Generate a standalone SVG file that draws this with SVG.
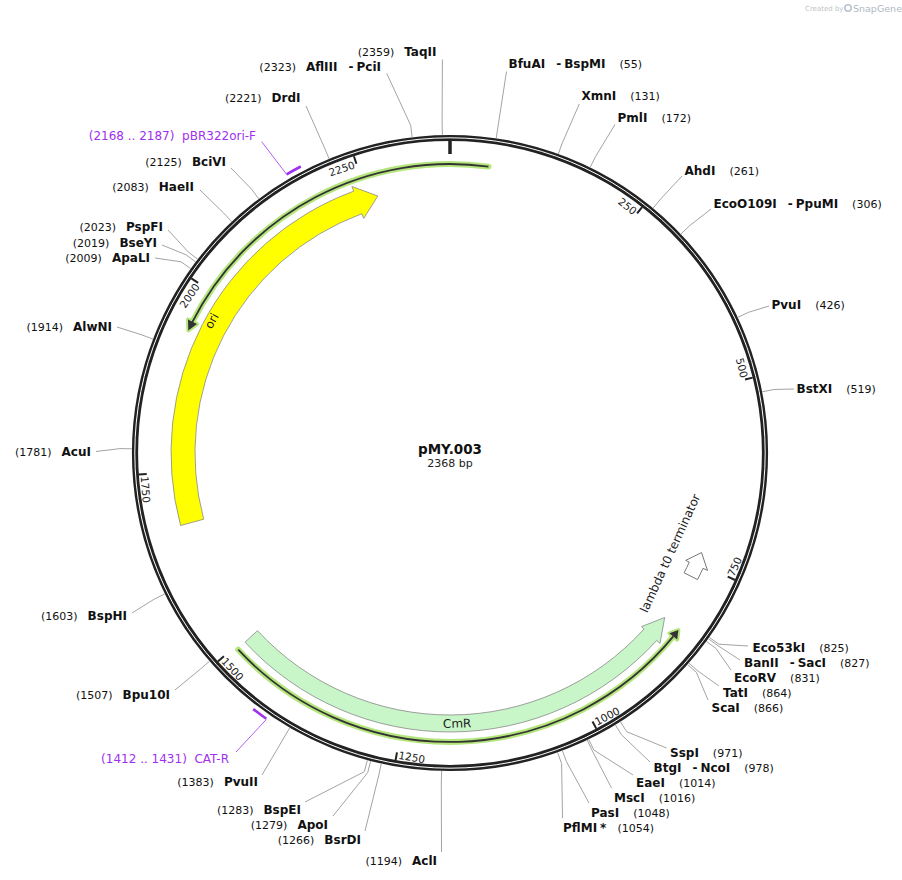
<svg xmlns="http://www.w3.org/2000/svg" width="902" height="880" viewBox="0 0 902 880">
<style>
text{font-family:"DejaVu Sans","Liberation Sans",sans-serif;}
.lb{font-size:11px;fill:#111;}
.b{font-weight:bold;font-size:12px;}
.tl{font-size:10.5px;fill:#222;}
.lead{fill:none;stroke:#999;stroke-width:0.9;}
.tick{stroke:#222;stroke-width:2;}
.prim{fill:none;stroke:#a030f0;stroke-width:2.6;}
.plead{fill:none;stroke:#b060f0;stroke-width:1;}
.plb{font-size:12px;fill:#a030f0;}
.fl{font-size:12px;fill:#222;}
.glow{fill:none;stroke:#b5e67e;stroke-width:6;stroke-linecap:round;stroke-linejoin:round;}
.core{fill:none;stroke:#333;stroke-width:1.8;}
</style>
<rect width="902" height="880" fill="#fff"/>
<g id="logo">
<text x="805" y="11" style="font-size:7px;fill:#c4c4c4;">Created by</text>
<circle cx="848" cy="8" r="3.2" fill="none" stroke="#b9c4d0" stroke-width="1.6"/>
<text x="853" y="12" style="font-size:9.5px;fill:#b0b8c2;">SnapGene</text>
</g>
<g id="backbone">
<circle cx="450" cy="453" r="315" fill="none" stroke="#222" stroke-width="6.2"/>
<circle cx="450" cy="453" r="315.2" fill="none" stroke="#fff" stroke-width="1"/>
</g>
<g id="ticks">
<line class="tick" x1="450" y1="140.5" x2="450" y2="154" style="stroke-width:3.5"/>
<line class="tick" x1="642.1" y1="207.1" x2="637.1" y2="213.4"/>
<line class="tick" x1="752.7" y1="377.6" x2="745.0" y2="379.5"/>
<line class="tick" x1="735.0" y1="580.0" x2="727.7" y2="576.7"/>
<line class="tick" x1="596.3" y1="728.6" x2="592.5" y2="721.5"/>
<line class="tick" x1="395.6" y1="760.2" x2="397.0" y2="752.3"/>
<line class="tick" x1="217.9" y1="661.5" x2="223.9" y2="656.2"/>
<line class="tick" x1="138.7" y1="474.5" x2="146.7" y2="473.9"/>
<line class="tick" x1="191.4" y1="278.4" x2="198.1" y2="282.9"/>
<line class="tick" x1="353.9" y1="156.2" x2="356.4" y2="163.8"/>
<text class="tl" text-anchor="end" x="-2" transform="translate(634.7,216.6) rotate(38.01)">250</text>
<text class="tl" text-anchor="end" x="-2" transform="translate(741.1,380.5) rotate(76.01)">500</text>
<text class="tl" x="2" transform="translate(733.2,579.2) rotate(-65.98)">750</text>
<text class="tl" x="2" transform="translate(595.4,726.8) rotate(-27.97)">1000</text>
<text class="tl" x="2" transform="translate(396.0,758.3) rotate(10.03)">1250</text>
<text class="tl" x="2" transform="translate(219.4,660.2) rotate(48.04)">1500</text>
<text class="tl" x="2" transform="translate(140.7,474.4) rotate(86.05)">1750</text>
<text class="tl" text-anchor="end" x="-2" transform="translate(201.4,285.1) rotate(-55.95)">2000</text>
<text class="tl" text-anchor="end" x="-2" transform="translate(357.6,167.6) rotate(-17.94)">2250</text>
</g>
<g id="orf1">
<path class="glow" d="M488.5,166.6 A289,289 0 0 0 192.0,322.7"/>
<polygon points="188.3,330.4 197.0,324.1 188.0,319.5" fill="#b5e67e" stroke="#b5e67e" stroke-width="4" stroke-linejoin="round"/>
<path class="core" d="M488.5,166.6 A289,289 0 0 0 192.0,322.7"/>
<polygon points="188.3,330.4 197.0,324.1 188.0,319.5" fill="#333"/>
</g>
<g id="orf2">
<path class="glow" d="M238.3,649.7 A289,289 0 0 0 673.3,636.4"/>
<polygon points="678.4,630.1 669.4,633.3 677.2,639.6" fill="#b5e67e" stroke="#b5e67e" stroke-width="4" stroke-linejoin="round"/>
<path class="core" d="M238.3,649.7 A289,289 0 0 0 673.3,636.4"/>
<polygon points="678.4,630.1 669.4,633.3 677.2,639.6" fill="#333"/>
</g>
<g id="ori">
<path d="M180.6,525.5 A279,279 0 0 1 353.7,191.2 L351.9,186.5 L377.8,196.0 L363.7,218.4 L361.9,213.7 A255,255 0 0 0 203.7,519.2 Z" fill="#ffff00" stroke="#888" stroke-width="0.8"/>
<text class="fl" text-anchor="middle" transform="translate(215.3,322.9) rotate(-61)">ori</text>
</g>
<g id="CmR">
<path d="M245.0,642.2 A279,279 0 0 0 656.7,640.4 L660.0,643.4 L664.7,617.5 L641.5,626.6 L644.1,629.0 A262,262 0 0 1 257.5,630.7 Z" fill="#c8f6c8" stroke="#888" stroke-width="0.8"/>
<text class="fl" text-anchor="middle" transform="translate(457.2,727.7) rotate(-1.5)">CmR</text>
</g>
<g id="terminator">
<path d="M697.5,579.6 A278,278 0 0 0 703.0,568.3 L707.5,570.4 L701.5,552.6 L685.7,560.4 L689.3,562.1 A263,263 0 0 1 684.1,572.8 Z" fill="#fff" stroke="#777" stroke-width="1"/>
<text class="fl" text-anchor="middle" transform="translate(673.9,555.0) rotate(-65.5)">lambda t0 terminator</text>
</g>
<g id="primer-pBR322ori-F">
<path class="prim" d="M286.6,174.4 A323,323 0 0 1 300.8,166.5"/>
<text class="plb" text-anchor="end" x="256" y="139.5" xml:space="preserve">(2168 .. 2187)  pBR322ori-F</text>
</g>
<g id="primer-CAT-R">
<path class="prim" d="M253.2,709.1 A323,323 0 0 0 266.3,718.7"/>
<text class="plb" text-anchor="end" x="229" y="763" xml:space="preserve">(1412 .. 1431)  CAT-R</text>
</g>
<g id="connectors">
<polyline class="plead" points="286.6,174.4 261.7,141.7"/>
<polyline class="plead" points="266.3,719.5 236,752"/>
<polyline class="lead" points="496.2,138.4 498.0,126.5 506.5,71.5"/>
<polyline class="lead" points="558.3,154.0 562.4,142.7 579.3,104"/>
<polyline class="lead" points="590.1,167.5 595.4,156.8 615,124.5"/>
<polyline class="lead" points="653.0,208.2 660.7,199.0 682,176"/>
<polyline class="lead" points="680.7,234.2 689.4,225.9 711,209"/>
<polyline class="lead" points="737.6,317.4 748.5,312.3 769,306"/>
<polyline class="lead" points="762.1,391.8 773.8,389.5 794,389"/>
<polyline class="lead" points="709.2,637.3 718.9,644.2 748,646"/>
<polyline class="lead" points="708.2,638.6 717.9,645.7 740,660"/>
<polyline class="lead" points="706.2,641.3 715.9,648.4 731,670"/>
<polyline class="lead" points="688.8,663.0 697.8,670.9 719,686"/>
<polyline class="lead" points="687.5,664.5 696.4,672.4 708,700"/>
<polyline class="lead" points="620.3,721.6 626.7,731.7 666.5,748"/>
<polyline class="lead" points="615.3,724.7 621.6,734.9 650,762"/>
<polyline class="lead" points="588.6,739.2 593.8,750.0 633,775"/>
<polyline class="lead" points="587.1,739.9 592.3,750.8 611.5,788"/>
<polyline class="lead" points="562.3,750.5 566.5,761.7 589,803"/>
<polyline class="lead" points="557.5,752.3 561.6,763.6 562.5,818"/>
<polyline class="lead" points="441.6,770.9 441.3,782.9 441.5,852"/>
<polyline class="lead" points="381.3,763.5 378.8,775.2 365,831"/>
<polyline class="lead" points="370.7,761.0 367.7,772.6 333,816"/>
<polyline class="lead" points="367.4,760.1 364.3,771.7 305,802"/>
<polyline class="lead" points="289.8,727.7 283.7,738.1 262,775"/>
<polyline class="lead" points="209.5,661.1 200.5,669.0 175,690"/>
<polyline class="lead" points="164.9,593.9 154.2,599.2 132,613"/>
<polyline class="lead" points="132.0,448.8 120.0,448.6 96,451.5"/>
<polyline class="lead" points="153.1,339.2 141.9,334.9 117,327"/>
<polyline class="lead" points="190.8,268.7 181.1,261.8 155,258"/>
<polyline class="lead" points="195.7,262.0 186.1,254.8 162,245"/>
<polyline class="lead" points="197.8,259.3 188.3,252.0 168,230"/>
<polyline class="lead" points="231.8,221.7 223.6,213.0 200,190"/>
<polyline class="lead" points="258.9,198.9 251.7,189.3 231,168"/>
<polyline class="lead" points="329.1,158.9 324.5,147.8 306,106"/>
<polyline class="lead" points="412.1,137.3 410.7,125.3 386.7,73.3"/>
<polyline class="lead" points="442.4,135.1 442.1,123.1 442.4,59.5"/>
</g>
<g id="sites-right">
<text class="lb" x="508.5" y="67.5"><tspan class="b">BfuAI</tspan><tspan class="b" dx="11">-</tspan><tspan class="b" dx="3">BspMI</tspan><tspan dx="14">(55)</tspan></text>
<text class="lb" x="581.5" y="100"><tspan class="b">XmnI</tspan><tspan dx="14">(131)</tspan></text>
<text class="lb" x="617.5" y="121.5"><tspan class="b">PmlI</tspan><tspan dx="14">(172)</tspan></text>
<text class="lb" x="684.5" y="174.5"><tspan class="b">AhdI</tspan><tspan dx="14">(261)</tspan></text>
<text class="lb" x="713.5" y="207.5"><tspan class="b">EcoO109I</tspan><tspan class="b" dx="11">-</tspan><tspan class="b" dx="3">PpuMI</tspan><tspan dx="14">(306)</tspan></text>
<text class="lb" x="771.5" y="308.5"><tspan class="b">PvuI</tspan><tspan dx="14">(426)</tspan></text>
<text class="lb" x="796.5" y="392.5"><tspan class="b">BstXI</tspan><tspan dx="14">(519)</tspan></text>
<text class="lb" x="752.5" y="651.5"><tspan class="b">Eco53kI</tspan><tspan dx="14">(825)</tspan></text>
<text class="lb" x="744" y="666.5"><tspan class="b">BanII</tspan><tspan class="b" dx="11">-</tspan><tspan class="b" dx="3">SacI</tspan><tspan dx="14">(827)</tspan></text>
<text class="lb" x="734" y="681.5"><tspan class="b">EcoRV</tspan><tspan dx="14">(831)</tspan></text>
<text class="lb" x="723" y="696.5"><tspan class="b">TatI</tspan><tspan dx="14">(864)</tspan></text>
<text class="lb" x="711.5" y="711.5"><tspan class="b">ScaI</tspan><tspan dx="14">(866)</tspan></text>
<text class="lb" x="670" y="756.5"><tspan class="b">SspI</tspan><tspan dx="14">(971)</tspan></text>
<text class="lb" x="653.5" y="771.5"><tspan class="b">BtgI</tspan><tspan class="b" dx="11">-</tspan><tspan class="b" dx="3">NcoI</tspan><tspan dx="14">(978)</tspan></text>
<text class="lb" x="636" y="786.5"><tspan class="b">EaeI</tspan><tspan dx="14">(1014)</tspan></text>
<text class="lb" x="614" y="801.5"><tspan class="b">MscI</tspan><tspan dx="14">(1016)</tspan></text>
<text class="lb" x="591" y="816.5"><tspan class="b">PasI</tspan><tspan dx="14">(1048)</tspan></text>
<text class="lb" x="563" y="831.5"><tspan class="b">PflMI</tspan><tspan class="b" dx="3">*</tspan><tspan dx="11">(1054)</tspan></text>
</g>
<g id="sites-left">
<text class="lb" text-anchor="end" x="437" y="865"><tspan>(1194)</tspan><tspan class="b" dx="10">AclI</tspan></text>
<text class="lb" text-anchor="end" x="361" y="844"><tspan>(1266)</tspan><tspan class="b" dx="10">BsrDI</tspan></text>
<text class="lb" text-anchor="end" x="328" y="829"><tspan>(1279)</tspan><tspan class="b" dx="10">ApoI</tspan></text>
<text class="lb" text-anchor="end" x="301" y="814"><tspan>(1283)</tspan><tspan class="b" dx="10">BspEI</tspan></text>
<text class="lb" text-anchor="end" x="258" y="786"><tspan>(1383)</tspan><tspan class="b" dx="10">PvuII</tspan></text>
<text class="lb" text-anchor="end" x="170" y="699"><tspan>(1507)</tspan><tspan class="b" dx="10">Bpu10I</tspan></text>
<text class="lb" text-anchor="end" x="127" y="619.5"><tspan>(1603)</tspan><tspan class="b" dx="10">BspHI</tspan></text>
<text class="lb" text-anchor="end" x="91" y="456"><tspan>(1781)</tspan><tspan class="b" dx="10">AcuI</tspan></text>
<text class="lb" text-anchor="end" x="112" y="331"><tspan>(1914)</tspan><tspan class="b" dx="10">AlwNI</tspan></text>
<text class="lb" text-anchor="end" x="150" y="261.5"><tspan>(2009)</tspan><tspan class="b" dx="10">ApaLI</tspan></text>
<text class="lb" text-anchor="end" x="157" y="246.5"><tspan>(2019)</tspan><tspan class="b" dx="10">BseYI</tspan></text>
<text class="lb" text-anchor="end" x="163" y="231"><tspan>(2023)</tspan><tspan class="b" dx="10">PspFI</tspan></text>
<text class="lb" text-anchor="end" x="194" y="191"><tspan>(2083)</tspan><tspan class="b" dx="10">HaeII</tspan></text>
<text class="lb" text-anchor="end" x="226" y="166"><tspan>(2125)</tspan><tspan class="b" dx="10">BciVI</tspan></text>
<text class="lb" text-anchor="end" x="300.5" y="102"><tspan>(2221)</tspan><tspan class="b" dx="10">DrdI</tspan></text>
<text class="lb" text-anchor="end" x="381" y="71"><tspan>(2323)</tspan><tspan class="b" dx="10">AflIII</tspan><tspan class="b" dx="11">-</tspan><tspan class="b" dx="3">PciI</tspan></text>
<text class="lb" text-anchor="end" x="436.5" y="56"><tspan>(2359)</tspan><tspan class="b" dx="10">TaqII</tspan></text>
</g>
<g id="title">
<text x="450" y="454" text-anchor="middle" style="font-size:13.5px;font-weight:bold;fill:#111;">pMY.003</text>
<text x="450" y="467" text-anchor="middle" style="font-size:11px;fill:#222;">2368 bp</text>
</g>
</svg>
